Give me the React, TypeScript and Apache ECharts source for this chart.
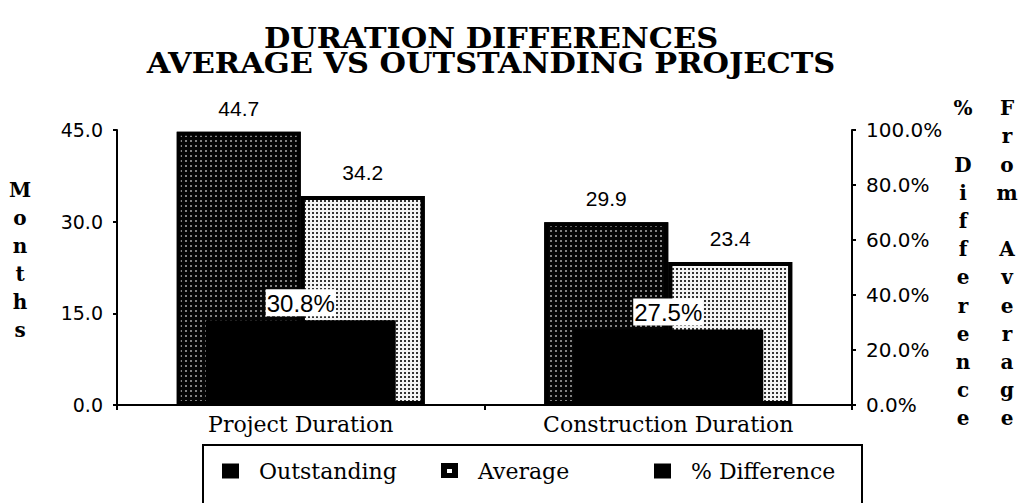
import React, { useEffect, useRef } from "react";
import * as echarts from "echarts";

const categories = ["Project Duration", "Construction Duration"];
const outstanding = [44.7, 29.9];
const average = [34.2, 23.4];
const pctDifference = [30.8, 27.5];
const titleLines = ["DURATION DIFFERENCES", "AVERAGE VS OUTSTANDING PROJECTS"];
const leftAxisName = "Months";
const rightAxisNameA = "% Difference";
const rightAxisNameB = "From Average";
const legendNames = ["Outstanding", "Average", "% Difference"];

const vertical = (s: string) => s.split("").join("\n");

export default function App() {
  const ref = useRef<HTMLDivElement>(null);
  useEffect(() => {
    if (!ref.current) return;
    const chart = echarts.init(ref.current, undefined, { renderer: "svg" });
    const serif = "DejaVu Serif";
    const sans = "DejaVu Sans";
    const legendCommon = {
      orient: "horizontal" as const,
      itemWidth: 17,
      itemHeight: 15,
      padding: 0,
      icon: "rect",
      selectedMode: false,
      top: 460,
      itemStyle: { color: "#000", borderWidth: 0, decal: "none" },
      textStyle: { fontFamily: serif, fontSize: 22, color: "#000", padding: [0, 0, 0, 15] },
    };
    chart.setOption({
      animation: false,
      backgroundColor: "#fff",
      grid: { left: 117, right: 172, top: 130, bottom: 98 },
      legend: [
        { ...legendCommon, left: 222, data: [legendNames[0]] },
        { ...legendCommon, left: 441, icon: "none", data: [legendNames[1]] },
        { ...legendCommon, left: 654, data: [legendNames[2]] },
      ],
      xAxis: [
        {
          type: "category",
          data: categories,
          axisLine: { show: true, lineStyle: { color: "#000", width: 2 } },
          axisTick: { show: true, length: 5, lineStyle: { color: "#000", width: 2 } },
          axisLabel: { color: "#000", fontFamily: serif, fontSize: 22, margin: 8 },
          splitLine: { show: false },
        },
        { type: "category", data: categories, show: false },
      ],
      yAxis: [
        {
          type: "value",
          position: "left",
          min: 0,
          max: 45,
          interval: 15,
          axisLine: { show: true, lineStyle: { color: "#000", width: 2 } },
          axisTick: { show: true, length: 4, lineStyle: { color: "#000", width: 2 } },
          splitLine: { show: false },
          axisLabel: {
            color: "#000",
            fontFamily: sans,
            fontSize: 19,
            margin: 14,
            formatter: (v: number) => v.toFixed(1),
          },
        },
        {
          type: "value",
          position: "right",
          min: 0,
          max: 100,
          interval: 20,
          axisLine: { show: true, lineStyle: { color: "#000", width: 2 } },
          axisTick: { show: true, length: 4, lineStyle: { color: "#000", width: 2 } },
          splitLine: { show: false },
          axisLabel: {
            color: "#000",
            fontFamily: sans,
            fontSize: 20,
            margin: 14,
            formatter: (v: number) => v.toFixed(1) + "%",
          },
        },
      ],
      series: [
        {
          name: legendNames[0],
          type: "bar",
          xAxisIndex: 0,
          yAxisIndex: 0,
          data: outstanding,
          barWidth: 124,
          barGap: "0%",
          itemStyle: {
            color: "#050505",
            borderColor: "#000",
            borderWidth: 4,
            decal: {
              symbol: "rect",
              symbolSize: 1,
              color: "rgba(255,255,255,0.5)",
              dashArrayX: [1.1, 3],
              dashArrayY: [1.1, 3],
              rotation: 0,
            },
          },
          label: {
            show: true,
            position: "top",
            distance: 13,
            color: "#000",
            fontFamily: "Liberation Sans",
            fontSize: 21,
            formatter: (p: any) => Number(p.value).toFixed(1),
          },
          z: 2,
        },
        {
          name: legendNames[1],
          type: "bar",
          xAxisIndex: 0,
          yAxisIndex: 0,
          data: average,
          barWidth: 124,
          barGap: "0%",
          itemStyle: {
            color: "#f4f4f4",
            borderColor: "#000",
            borderWidth: 4,
            decal: {
              symbol: "rect",
              symbolSize: 1,
              color: "#333",
              dashArrayX: [1.6, 1.4],
              dashArrayY: [1.6, 1.4],
              rotation: 0,
            },
          },
          label: {
            show: true,
            position: "top",
            distance: 13,
            color: "#000",
            fontFamily: "Liberation Sans",
            fontSize: 21,
            formatter: (p: any) => Number(p.value).toFixed(1),
          },
          z: 2,
        },
        {
          name: legendNames[2],
          type: "bar",
          xAxisIndex: 1,
          yAxisIndex: 1,
          data: pctDifference,
          barWidth: 190,
          itemStyle: { color: "#000" },
          label: {
            show: true,
            position: "top",
            distance: 4,
            color: "#000",
            fontFamily: "Liberation Sans",
            fontSize: 24,
            backgroundColor: "#fff",
            padding: [2, 1, 1, 1],
            formatter: (p: any) => Number(p.value).toFixed(1) + "%",
          },
          z: 3,
        },
      ],
      graphic: [
        {
          type: "text",
          x: 491,
          y: 38,
          scaleX: 1.086,
          style: {
            text: titleLines[0],
            fontFamily: serif,
            fontWeight: "bold",
            fontSize: 28,
            fill: "#000",
            align: "center",
            verticalAlign: "middle",
          },
        },
        {
          type: "text",
          x: 491,
          y: 63,
          scaleX: 1.086,
          style: {
            text: titleLines[1],
            fontFamily: serif,
            fontWeight: "bold",
            fontSize: 28,
            fill: "#000",
            align: "center",
            verticalAlign: "middle",
          },
        },
        {
          type: "text",
          x: 20,
          y: 176,
          style: {
            text: vertical(leftAxisName),
            fontFamily: serif,
            fontWeight: "bold",
            fontSize: 20,
            lineHeight: 28,
            fill: "#000",
            align: "center",
            verticalAlign: "top",
          },
        },
        {
          type: "text",
          x: 963,
          y: 94,
          style: {
            text: vertical(rightAxisNameA),
            fontFamily: serif,
            fontWeight: "bold",
            fontSize: 20,
            lineHeight: 28.2,
            fill: "#000",
            align: "center",
            verticalAlign: "top",
          },
        },
        {
          type: "text",
          x: 1007,
          y: 94,
          style: {
            text: vertical(rightAxisNameB),
            fontFamily: serif,
            fontWeight: "bold",
            fontSize: 20,
            lineHeight: 28.2,
            fill: "#000",
            align: "center",
            verticalAlign: "top",
          },
        },
        {
          type: "rect",
          shape: { x: 203, y: 445, width: 659, height: 80 },
          style: { fill: "none", stroke: "#000", lineWidth: 2 },
          z: -1,
        },
        {
          type: "rect",
          shape: { x: 441, y: 463, width: 17, height: 15 },
          style: { fill: "#000" },
          z: 100,
        },
        {
          type: "rect",
          shape: { x: 447, y: 469, width: 5, height: 4 },
          style: { fill: "#fff" },
          z: 101,
        },
      ],
    });
    return () => chart.dispose();
  }, []);
  return <div ref={ref} style={{ width: 1024, height: 503, position: "absolute", left: 0, top: 0 }} />;
}
